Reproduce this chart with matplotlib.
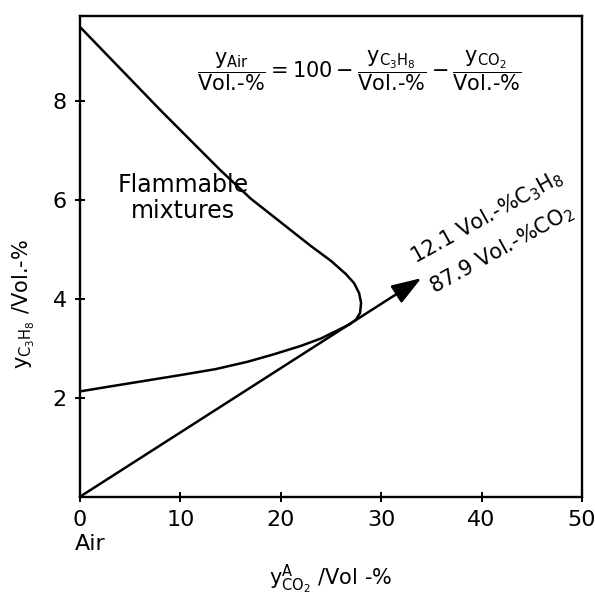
import matplotlib
matplotlib.use("Agg")
import matplotlib.pyplot as plt

# ---- data ----
upper_x = [0, 8, 14, 17, 20, 23, 25, 26.5, 27.3, 27.8, 28.0, 27.9, 27.5, 26.8]
upper_y = [9.5, 7.82, 6.6, 6.03, 5.55, 5.07, 4.77, 4.5, 4.32, 4.12, 3.92, 3.72, 3.58, 3.48]
lower_x = [0, 3, 10, 13.5, 16.7, 19.3, 22, 24, 26.8]
lower_y = [2.13, 2.23, 2.46, 2.58, 2.73, 2.88, 3.05, 3.2, 3.48]
line_start = (0, 0)
arrow_tip = (34, 4.42)
x_ticks = [0, 10, 20, 30, 40, 50]
y_ticks = [2, 4, 6, 8]

plt.rcParams['font.family'] = ['DejaVu Sans']
plt.rcParams['mathtext.fontset'] = 'custom'
plt.rcParams['mathtext.rm'] = 'DejaVu Sans'
plt.rcParams['mathtext.it'] = 'DejaVu Sans'
plt.rcParams['mathtext.bf'] = 'DejaVu Sans'

fig = plt.figure(figsize=(5.95, 5.97), dpi=100)
ax = fig.add_axes([0.1345, 0.168, 0.8435, 0.805])

ax.plot(upper_x, upper_y, color='black', lw=1.8, solid_capstyle='round', solid_joinstyle='round')
ax.plot(lower_x, lower_y, color='black', lw=1.8, solid_capstyle='round', solid_joinstyle='round')
ax.annotate('', xy=arrow_tip, xytext=line_start,
            arrowprops=dict(arrowstyle='-|>,head_length=1.3,head_width=0.45',
                            color='black', lw=1.8, mutation_scale=14,
                            shrinkA=0, shrinkB=0))

ax.set_xlim(0, 50)
ax.set_ylim(0, 9.72)
ax.set_xticks(x_ticks)
ax.set_yticks(y_ticks)
ax.tick_params(direction='inout', length=7, width=1.4, labelsize=16, pad=6)
for s in ax.spines.values():
    s.set_linewidth(1.7)

ax.set_xlabel(r'$\mathrm{y}^{\mathrm{A}}_{\mathrm{CO_2}}$ /Vol -%', fontsize=15)
ax.xaxis.set_label_coords(0.5, -0.137)
ax.set_ylabel(r'$\mathrm{y}_{\mathrm{C_3H_8}}$ /Vol.-%', fontsize=15)
ax.yaxis.set_label_coords(-0.085, 0.40)

ax.text(-0.5, -0.95, 'Air', fontsize=16, ha='left', va='center')

ax.text(27.8, 8.62,
        r'$\dfrac{\mathrm{y}_{\mathrm{Air}}}{\text{Vol.-\%}}=100-\dfrac{\mathrm{y}_{\mathrm{C_3H_8}}}{\text{Vol.-\%}}-\dfrac{\mathrm{y}_{\mathrm{CO_2}}}{\text{Vol.-\%}}$',
        fontsize=15, ha='center', va='center')

ax.text(10.3, 6.05, 'Flammable\nmixtures', fontsize=17, ha='center', va='center',
        linespacing=1.1)

ax.text(40.5, 5.65, r'12.1 Vol.-%$\mathrm{C_3H_8}$', fontsize=15, rotation=29,
        rotation_mode='anchor', ha='center', va='center')
ax.text(42.0, 5.0, r'87.9 Vol.-%$\mathrm{CO_2}$', fontsize=15, rotation=29,
        rotation_mode='anchor', ha='center', va='center')

fig.savefig('out.png', dpi=100)
